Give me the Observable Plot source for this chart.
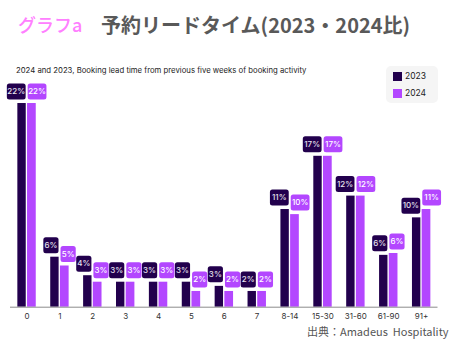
<!DOCTYPE html>
<html><head><meta charset="utf-8">
<script src="https://cdn.jsdelivr.net/npm/d3@7"></script>
<script src="https://cdn.jsdelivr.net/npm/@observablehq/plot@0.6"></script>
<style>
html,body{margin:0;padding:0;background:#fff;}
#wrap{position:relative;width:476px;height:348px;overflow:hidden;font-family:Inter,"Noto Sans",sans-serif;}
#tag{position:absolute;left:18px;top:11px;font:500 18px "Noto Sans CJK JP";color:#ff80ff;white-space:nowrap;}
#title{position:absolute;left:101px;top:10px;font:bold 20px "Noto Sans CJK JP";color:#595959;white-space:nowrap;}
#sub{position:absolute;left:16px;top:65px;font-size:7.75px;color:#222;white-space:nowrap;}
#legend{position:absolute;left:386px;top:66px;width:52px;height:37px;background:#f5f5f5;border-radius:5px;font-size:8.5px;color:#222;}
.li{position:absolute;left:7px;height:9px;line-height:9px;white-space:nowrap;}
.sw{display:inline-block;width:9px;height:9px;vertical-align:top;margin-right:3px;}
#cap{position:absolute;left:307px;top:323px;font:11px "Noto Sans CJK JP";color:#555;white-space:pre;}
svg{position:absolute;left:0;top:0;}
</style></head>
<body><div id="wrap">
<div id="tag">グラフa</div>
<div id="title">予約リードタイム(2023・2024比)</div>
<div id="sub">2024 and 2023, Booking lead time from previous five weeks of booking activity</div>
<div id="legend"></div>
<div id="cap">出典：Amadeus  Hospitality</div>
</div>
<script>
const categories = ["0","1","2","3","4","5","6","7","8-14","15-30","31-60","61-90","91+"];
const years = ["2023","2024"];
const values2023 = [22.0, 5.4, 3.4, 2.7, 2.7, 2.7, 2.25, 1.7, 10.55, 16.3, 12.0, 5.6, 9.65];
const values2024 = [22.0, 4.45, 2.7, 2.7, 2.7, 1.7, 1.7, 1.7, 10.0, 16.3, 12.0, 5.8, 10.55];
const labels2023 = ["22%","6%","4%","3%","3%","3%","3%","2%","11%","17%","12%","6%","10%"];
const labels2024 = ["22%","5%","3%","3%","3%","2%","2%","2%","10%","17%","12%","6%","11%"];
const colors = {"2023":"#22004d","2024":"#b347ff"};

const rows = [];
categories.forEach((c,i)=>{
  rows.push({cat:c, year:"2023", value:values2023[i], label:labels2023[i]});
  rows.push({cat:c, year:"2024", value:values2024[i], label:labels2024[i]});
});

// legend
const lg = document.getElementById("legend");
years.forEach((y,i)=>{
  const d = document.createElement("div");
  d.className="li"; d.style.top = (i===0?6:23)+"px";
  d.innerHTML = `<span class="sw" style="background:${colors[y]}"></span>${y}`;
  lg.appendChild(d);
});

const W = 476, ML = 10, MR = 38.5;
const step = (W - ML - MR) / categories.length;
const half = step / 2;

function roundBox(w, h, r) {
  return {draw(ctx) {
    const x0=-w/2, y0=-h/2, x1=w/2, y1=h/2;
    ctx.moveTo(x0+r, y0);
    ctx.arcTo(x1, y0, x1, y1, r);
    ctx.arcTo(x1, y1, x0, y1, r);
    ctx.arcTo(x0, y1, x0, y0, r);
    ctx.arcTo(x0, y0, x1, y0, r);
    ctx.closePath();
  }};
}

const labelMarks = [];
for (const y of years) {
  for (const wide of [false, true]) {
    const w = wide ? 18.8 : 15.2;
    const dx = y === "2023" ? -(1.3 + w/2) : (0.7 + w/2);
    const data = rows.filter(d => d.year === y && (d.label.length === 3) === wide);
    labelMarks.push(Plot.dot(data, {x:"cat", y:"value", dx, dy:-12, r:5,
      symbol: roundBox(w, 16, 2.5), fill: colors[y], stroke:"none"}));
    labelMarks.push(Plot.text(data, {x:"cat", y:"value", dx, dy:-12, text:"label",
      fill: y === "2023" ? "#e6e0ee" : "#ffffff", fontSize: 8, fontWeight: 500,
      fontFamily: "Inter, 'Noto Sans', sans-serif", textAnchor:"middle"}));
  }
}

const chart = Plot.plot({
  width: W, height: 348,
  marginLeft: ML, marginRight: MR, marginTop: 84.5, marginBottom: 41.3,
  style: {fontFamily: "Inter, 'Noto Sans', sans-serif", background: "transparent"},
  x: {type: "band", domain: categories, padding: 0, round: false, label: null, tickSize: 0, tickPadding: 6},
  y: {domain: [0, 24], axis: null},
  marks: [
    Plot.barY(rows.filter(d=>d.year==="2023"), {x:"cat", y:"value", fill: colors["2023"],
      insetLeft: half - 9.1, insetRight: half + 0.7}),
    Plot.barY(rows.filter(d=>d.year==="2024"), {x:"cat", y:"value", fill: colors["2024"],
      insetLeft: half + 0.6, insetRight: half - 9.3}),
    Plot.ruleY([0], {stroke: "#8c8c8c", strokeWidth: 1}),
    ...labelMarks,
    Plot.axisX({tickSize: 0, tickPadding: 6, fontSize: 8, fill: "#333", label: null})
  ]
});
document.getElementById("wrap").appendChild(chart);
</script>
</body></html>
